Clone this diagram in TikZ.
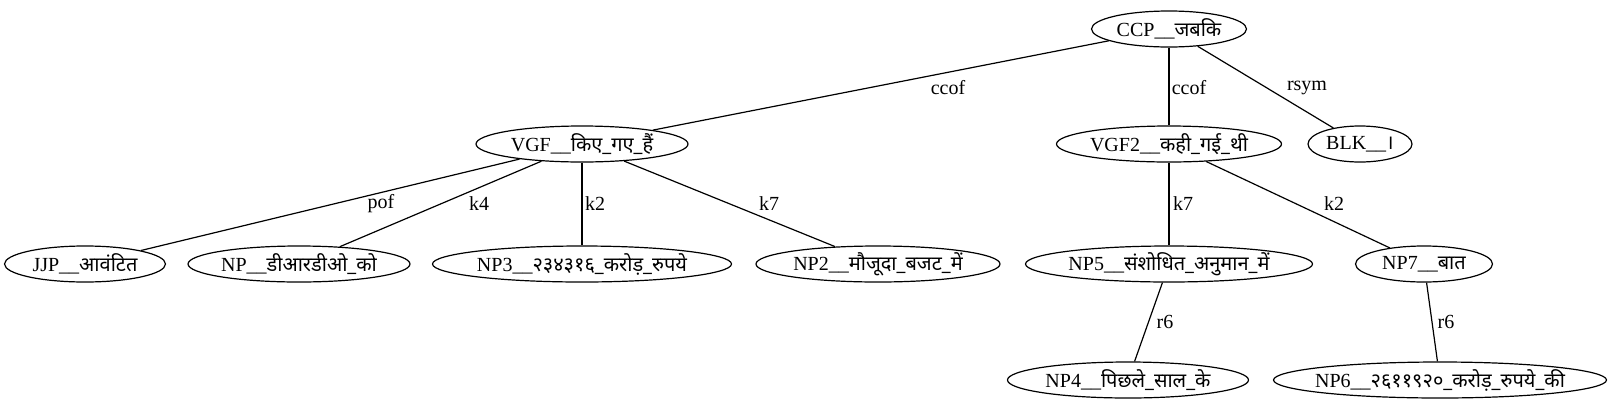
\documentclass[tikz,border=0pt]{standalone}
\usepackage{fontspec}
\setmainfont{Liberation Serif}
\newfontfamily\hindifont[Script=Devanagari]{Noto Sans}
\usetikzlibrary{shapes.geometric}
\newcommand{\hn}[1]{{\hindifont #1}}
\newcommand{\tok}[2]{\makebox[0pt]{#1\_\_\hn{#2}}}
\begin{document}
\begin{tikzpicture}[x=0.75pt, y=-0.75pt, line width=0.9pt,
    chunk/.style={draw, ellipse, inner sep=0pt, minimum height=27pt, font=\fontsize{15}{17}\selectfont},
    rel/.style={font=\fontsize{15}{17}\selectfont, inner sep=1pt}]
                \useasboundingbox (0,0) rectangle (1616,411);

                % nodes
                \node[chunk, minimum width=155*0.75pt] (ccp) at (1169, 29) {\tok{CCP}{जबकि}};
                \node[chunk, minimum width=212*0.75pt] (vgf) at (582, 144) {\tok{VGF}{किए\_गए\_हैं}};
                \node[chunk, minimum width=225*0.75pt] (vgf2) at (1169, 144) {\tok{VGF2}{कही\_गई\_थी}};
                \node[chunk, minimum width=104*0.75pt] (blk) at (1360, 144) {\tok{BLK}{।}};
                \node[chunk, minimum width=161*0.75pt] (jjp) at (85, 264) {\tok{JJP}{आवंटित}};
                \node[chunk, minimum width=222*0.75pt] (np) at (299, 264) {\tok{NP}{डीआरडीओ\_को}};
                \node[chunk, minimum width=299*0.75pt] (np3) at (582, 264) {\tok{NP3}{२३४३१६\_करोड़\_रुपये}};
                \node[chunk, minimum width=244*0.75pt] (np2) at (878, 264) {\tok{NP2}{मौजूदा\_बजट\_में}};
                \node[chunk, minimum width=287*0.75pt] (np5) at (1169, 264) {\tok{NP5}{संशोधित\_अनुमान\_में}};
                \node[chunk, minimum width=137*0.75pt] (np7) at (1424, 264) {\tok{NP7}{बात}};
                \node[chunk, minimum width=241*0.75pt] (np4) at (1128, 380) {\tok{NP4}{पिछले\_साल\_के}};
                \node[chunk, minimum width=333*0.75pt] (np6) at (1440, 380) {\tok{NP6}{२६११९२०\_करोड़\_रुपये\_की}};

                % relation labels
                \node[rel] (lccofa) at (948, 88) {ccof};
                \node[rel] (lccofb) at (1189, 88) {ccof};
                \node[rel] (lrsym) at (1307, 88) {rsym};
                \node[rel] (lpof) at (381, 204) {pof};
                \node[rel] (lkfoura) at (479, 204) {k4};
                \node[rel] (lktwoa) at (595, 204) {k2};
                \node[rel] (lksevena) at (769, 204) {k7};
                \node[rel] (lksevenb) at (1183, 204) {k7};
                \node[rel] (lktwob) at (1334, 204) {k2};
                \node[rel] (lrsixa) at (1165, 322) {r6};
                \node[rel] (lrsixb) at (1446, 322) {r6};

                % ccp -> children
                \draw (ccp) -- (vgf);
                \draw (ccp) -- (vgf2);
                \draw (ccp) -- (blk);

                % vgf -> children
                \draw (vgf) -- (jjp);
                \draw (vgf) -- (np);
                \draw (vgf) -- (np3);
                \draw (vgf) -- (np2);

                % vgf2 -> children
                \draw (vgf2) -- (np5);
                \draw (vgf2) -- (np7);

                % lower level
                \draw (np5) -- (np4);
                \draw (np7) -- (np6);

            \end{tikzpicture}
\end{document}
